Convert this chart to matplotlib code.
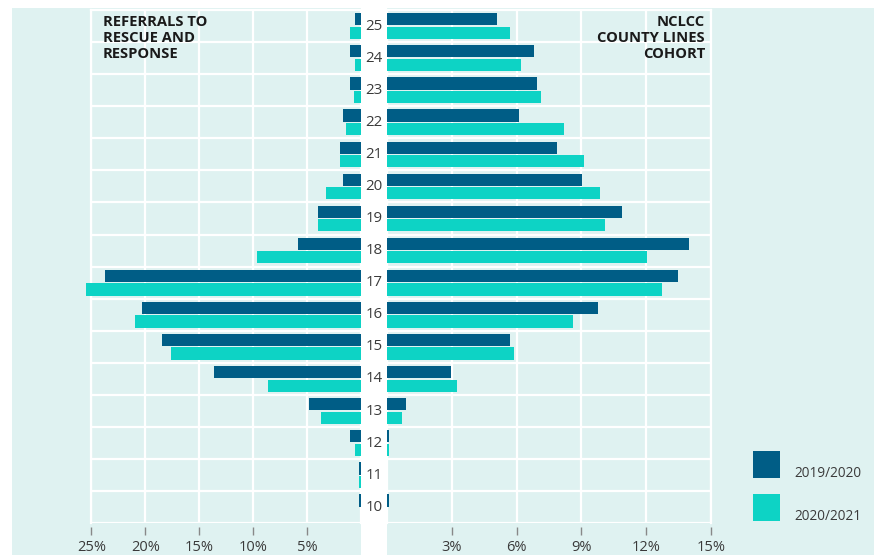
import matplotlib
matplotlib.use("Agg")
import matplotlib.pyplot as plt
from matplotlib.patches import Rectangle
import matplotlib.transforms as mtrans

ages = list(range(10, 26))
# Referrals to Rescue and Response (%)
rr_1920 = [0.19, 0.19, 1.02, 4.82, 13.6, 18.45, 20.3, 23.7, 5.87, 3.99, 1.64, 1.98, 1.64, 1.0, 1.0, 0.53]
rr_2021 = [0.0, 0.19, 0.53, 3.71, 8.6, 17.6, 20.95, 25.5, 9.64, 3.99, 3.24, 1.98, 1.36, 0.65, 0.53, 1.0]
# NCLCC County Lines cohort (%)
nc_1920 = [0.09, 0.0, 0.09, 0.9, 2.95, 5.69, 9.75, 13.46, 13.98, 10.9, 9.01, 7.87, 6.1, 6.93, 6.79, 5.09]
nc_2021 = [0.0, 0.0, 0.09, 0.69, 3.26, 5.86, 8.61, 12.73, 12.04, 10.1, 9.88, 9.1, 8.21, 7.12, 6.19, 5.68]

left_ticks = [25, 20, 15, 10, 5]
right_ticks = [3, 6, 9, 12, 15]
series_labels = ["2019/2020", "2020/2021"]
left_title = "REFERRALS TO\nRESCUE AND\nRESPONSE"
right_title = "NCLCC\nCOUNTY LINES\nCOHORT"

DARK = "#005d86"
LIGHT = "#0dd3c5"
BG = "#dff2f1"
TXT = "#3a3a3a"

W, H = 874, 555
plt.rcParams['font.family'] = ['Open Sans', 'DejaVu Sans']
fig = plt.figure(figsize=(W / 100, H / 100), dpi=100, facecolor="white")

def fx(px):
    return px / W

def fy(py):
    return 1 - py / H

# background panels
fig.patches.append(Rectangle((fx(12), 0), fx(361) - fx(12), fy(8), transform=fig.transFigure,
                             facecolor=BG, edgecolor="none", zorder=-5))
fig.patches.append(Rectangle((fx(387), 0), 1 - fx(387), fy(8), transform=fig.transFigure,
                             facecolor=BG, edgecolor="none", zorder=-5))

top, bot = 10, 523.3
axL = fig.add_axes([fx(91.3), fy(bot), fx(361) - fx(91.3), (bot - top) / H])
axR = fig.add_axes([fx(387), fy(bot), fx(711) - fx(387), (bot - top) / H])

h = 0.38
off = 0.21
for ax, d1, d2, ticks, lim in [(axL, rr_1920, rr_2021, left_ticks, (25, 0)),
                                (axR, nc_1920, nc_2021, right_ticks, (0, 15))]:
    ax.set_facecolor("none")
    ax.barh([a + off for a in ages], d1, height=h, color=DARK, clip_on=False, zorder=3)
    ax.barh([a - off for a in ages], d2, height=h, color=LIGHT, clip_on=False, zorder=3)
    ax.set_xlim(*lim)
    ax.set_ylim(9.5, 25.5)
    ax.set_xticks(ticks)
    ax.set_xticklabels([f"{t}%" for t in ticks])
    ax.set_yticks([a + 0.5 for a in ages[:-1]])
    ax.set_yticklabels([])
    ax.tick_params(axis="y", length=0)
    ax.tick_params(axis="x", length=6, width=1, color="#888888", labelsize=10.5,
                   labelcolor=TXT, pad=3)
    ax.grid(True, color="white", linewidth=1.6, zorder=1)
    ax.set_axisbelow(True)
    for s in ax.spines.values():
        s.set_color("white")
        s.set_linewidth(1.6)
    ax.spines['bottom'].set_position(("outward", 3))
    ax.spines['bottom'].set_visible(False)
    ax.axhline(9.5, color="white", linewidth=1.6, zorder=1)

# category labels in center strip
tr = mtrans.blended_transform_factory(fig.transFigure, axL.transData)
for a in ages:
    axL.text(fx(374), a, str(a), transform=tr, ha="center", va="center",
             fontsize=10.8, color=TXT, clip_on=False)

fig.text(fx(103), fy(14.5), left_title, ha="left", va="top", fontsize=10.6, fontweight="bold",
         color="#1a1a1a", linespacing=1.2)
fig.text(fx(705), fy(14.5), right_title, ha="right", va="top", fontsize=10.6, fontweight="bold",
         color="#1a1a1a", linespacing=1.2, multialignment="right")

# legend
for (y0, y1), col, lab in [((450.7, 477.7), DARK, series_labels[0]), ((494, 520.7), LIGHT, series_labels[1])]:
    fig.patches.append(Rectangle((fx(752.7), fy(y1)), fx(779.7) - fx(752.7), (y1 - y0) / H,
                                 transform=fig.transFigure, facecolor=col, edgecolor="none", zorder=2))
    fig.text(fx(794), fy(y1 - 0.5), lab, ha="left", va="baseline", fontsize=9.8, color=TXT)

fig.savefig("out.png", dpi=100, facecolor="white")
